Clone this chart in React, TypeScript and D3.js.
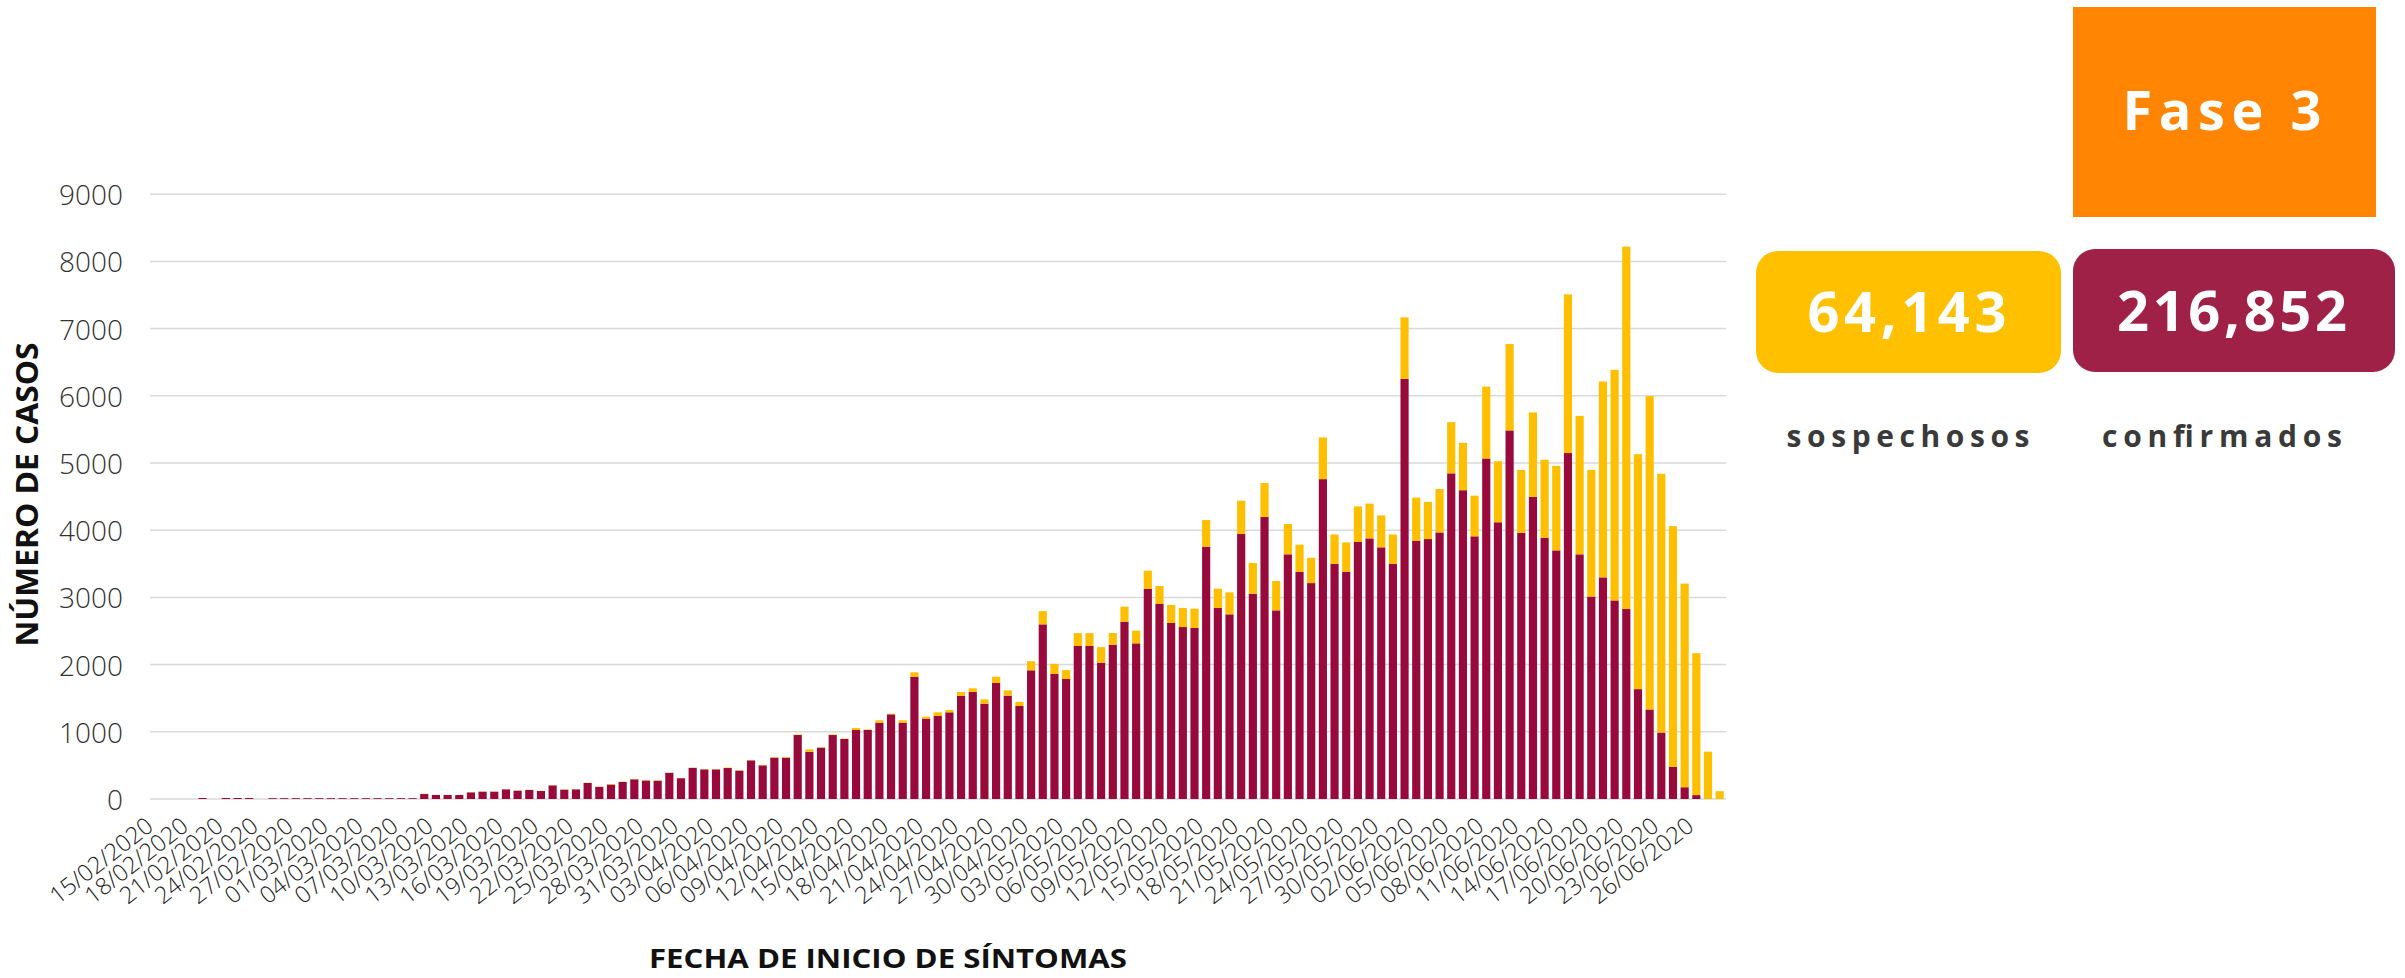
import React from "react";
import * as d3 from "d3";

// ---------- data ----------
const firstDay = new Date(2020, 1, 15);
const lastDayExclusive = new Date(2020, 5, 29);

const tickLabels = [
  "15/02/2020", "18/02/2020", "21/02/2020", "24/02/2020", "27/02/2020",
  "01/03/2020", "04/03/2020", "07/03/2020", "10/03/2020", "13/03/2020",
  "16/03/2020", "19/03/2020", "22/03/2020", "25/03/2020", "28/03/2020",
  "31/03/2020", "03/04/2020", "06/04/2020", "09/04/2020", "12/04/2020",
  "15/04/2020", "18/04/2020", "21/04/2020", "24/04/2020", "27/04/2020",
  "30/04/2020", "03/05/2020", "06/05/2020", "09/05/2020", "12/05/2020",
  "15/05/2020", "18/05/2020", "21/05/2020", "24/05/2020", "27/05/2020",
  "30/05/2020", "02/06/2020", "05/06/2020", "08/06/2020", "11/06/2020",
  "14/06/2020", "17/06/2020", "20/06/2020", "23/06/2020", "26/06/2020",
];

const yTicks = [0, 1000, 2000, 3000, 4000, 5000, 6000, 7000, 8000, 9000];

const confirmados = [
  0, 0, 0, 0, 15, 0, 15, 15, 15, 0,
  12, 12, 12, 12, 12, 12, 12, 12, 12, 12,
  12, 12, 12, 74, 60, 60, 60, 99, 109, 109,
  144, 124, 134, 119, 203, 139, 144, 238, 181, 215,
  253, 293, 275, 272, 389, 310, 463, 441, 441, 461,
  422, 575, 501, 615, 615, 952, 704, 764, 952, 893,
  1027, 1027, 1136, 1260, 1136, 1820, 1195, 1235, 1290, 1533,
  1592, 1419, 1726, 1538, 1384, 1915, 2599, 1860, 1786, 2277,
  2277, 2029, 2296, 2639, 2316, 3130, 2902, 2619, 2559, 2545,
  3755, 2842, 2748, 3943, 3055, 4196, 2807, 3641, 3380, 3213,
  4760, 3500, 3382, 3825, 3878, 3745, 3500, 6253, 3845, 3868,
  3967, 4846, 4595, 3909, 5067, 4118, 5485, 3961, 4497, 3886,
  3700, 5148, 3641, 3013, 3298, 2955, 2827, 1635, 1332, 989,
  477, 175, 58, 0, 0,
];

const sospechosos = [
  0, 0, 0, 0, 0, 0, 0, 0, 0, 0,
  0, 0, 0, 0, 0, 0, 0, 0, 0, 0,
  0, 0, 0, 4, 2, 2, 2, 3, 3, 3,
  3, 3, 3, 3, 4, 3, 3, 4, 3, 8,
  5, 5, 5, 6, 3, 3, 3, 5, 5, 6,
  6, 6, 6, 8, 8, 8, 35, 6, 8, 7,
  29, 8, 35, 10, 35, 65, 30, 55, 34, 59,
  55, 64, 94, 79, 62, 135, 196, 152, 132, 191,
  191, 231, 174, 223, 189, 268, 267, 268, 283, 287,
  397, 288, 327, 496, 457, 506, 437, 451, 405, 377,
  620, 436, 436, 529, 517, 475, 436, 914, 640, 553,
  646, 762, 704, 605, 1070, 908, 1286, 937, 1256, 1163,
  1256, 2362, 2060, 1885, 2915, 3432, 5393, 3496, 4665, 3851,
  3583, 3030, 2112, 704, 116,
];

const totalSospechosos = "64,143";
const totalConfirmados = "216,852";
const faseLabel = "Fase 3";

// ---------- styles ----------
const W = 2405;
const H = 978;
const MAROON = "#970A3B";
const GOLD = "#FDBF00";
const GRID = "#D9D9D9";

export default function App() {
  const fmt = d3.timeFormat("%d/%m/%Y");
  const categories = d3.timeDay.range(firstDay, lastDayExclusive).map(fmt);

  const x = d3
    .scaleBand<string>()
    .domain(categories)
    .range([150, 1725.5])
    .paddingInner(0.3)
    .paddingOuter(0.15);
  const y = d3.scaleLinear().domain([0, 9000]).range([799, 194.2]);

  const rows = categories.map((c, i) => ({
    cat: c,
    conf: confirmados[i],
    sosp: sospechosos[i],
  }));
  const stack = d3.stack<any>().keys(["conf", "sosp"])(rows as any);
  const colors = [MAROON, GOLD];

  return (
    <svg
      width={W}
      height={H}
      style={{ position: "absolute", left: 0, top: 0, background: "#fff" }}
    >
      <rect width={W} height={H} fill="#fff" />
      {yTicks.map((t) => (
        <g key={t}>
          <line x1={150} x2={1726} y1={y(t)} y2={y(t)} stroke={GRID} strokeWidth={1.5} />
          <text
            x={123}
            y={y(t)}
            textAnchor="end"
            dominantBaseline="central"
            fontFamily="'Open Sans', sans-serif"
            fontWeight={300}
            fontSize={28}
            fill="#333"
          >
            {t}
          </text>
        </g>
      ))}

      {stack.map((layer, li) => (
        <g key={li} fill={colors[li]}>
          {layer.map((d, i) => {
            const h = y(d[0]) - y(d[1]);
            if (h <= 0) return null;
            return (
              <rect
                key={i}
                x={x(categories[i])}
                y={y(d[1])}
                width={x.bandwidth()}
                height={h}
              />
            );
          })}
        </g>
      ))}

      {categories.map((c) =>
        tickLabels.includes(c) ? (
          <text
            key={c}
            transform={`translate(${(x(c) as number) + x.bandwidth() / 2 - 1},${829}) rotate(-38)`}
            textAnchor="end"
            fontFamily="'Open Sans', sans-serif"
            fontWeight={300}
            fontSize={23.5}
            fill="#222"
          >
            {c}
          </text>
        ) : null
      )}

      <text
        transform="translate(38,494.5) rotate(-90)"
        textAnchor="middle"
        fontFamily="'Open Sans', sans-serif"
        fontWeight={700}
        fontSize={30}
        textLength={304}
        lengthAdjust="spacingAndGlyphs"
        fill="#111"
      >
        NÚMERO DE CASOS
      </text>
      <text
        x={888}
        y={968}
        textAnchor="middle"
        fontFamily="'Open Sans', sans-serif"
        fontWeight={700}
        fontSize={27}
        textLength={478}
        lengthAdjust="spacingAndGlyphs"
        fill="#111"
      >
        FECHA DE INICIO DE SÍNTOMAS
      </text>

      <rect x={2073} y={7} width={303} height={210} fill="#FF8503" />
      <text
        x={2222}
        y={130}
        textAnchor="middle"
        fontFamily="'Open Sans', sans-serif"
        fontWeight={700}
        fontSize={54}
        textLength={199}
        lengthAdjust="spacing"
        fill="#fff"
      >
        {faseLabel}
      </text>

      <rect x={1756} y={251} width={305} height={122} rx={22} fill="#FFC000" />
      <text
        x={1907}
        y={332}
        textAnchor="middle"
        fontFamily="'Open Sans', sans-serif"
        fontWeight={700}
        fontSize={56}
        textLength={199}
        lengthAdjust="spacing"
        fill="#fff"
      >
        {totalSospechosos}
      </text>

      <rect x={2073} y={249} width={322} height={123} rx={22} fill="#A02148" />
      <text
        x={2232}
        y={331}
        textAnchor="middle"
        fontFamily="'Open Sans', sans-serif"
        fontWeight={700}
        fontSize={56}
        textLength={230}
        lengthAdjust="spacing"
        fill="#fff"
      >
        {totalConfirmados}
      </text>

      <text
        x={1908}
        y={447}
        textAnchor="middle"
        fontFamily="'Open Sans', sans-serif"
        fontWeight={700}
        fontSize={30}
        textLength={243}
        lengthAdjust="spacing"
        fill="#3A3A3A"
      >
        sospechosos
      </text>
      <text
        x={2222}
        y={447}
        textAnchor="middle"
        fontFamily="'Open Sans', sans-serif"
        fontWeight={700}
        fontSize={30}
        textLength={240}
        lengthAdjust="spacing"
        fill="#3A3A3A"
      >
        confirmados
      </text>
    </svg>
  );
}
